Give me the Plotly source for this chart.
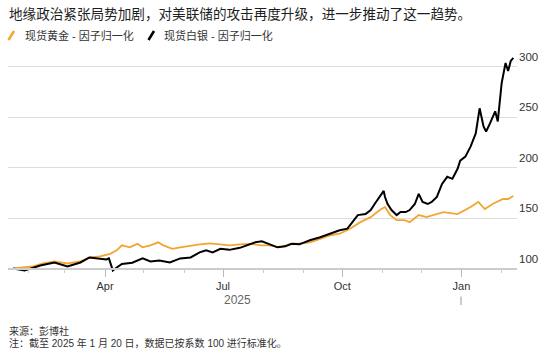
import plotly.graph_objects as go

title_text = "地缘政治紧张局势加剧，对美联储的攻击再度升级，进一步推动了这一趋势。"
gold_name = "现货黄金 - 因子归一化"
silver_name = "现货白银 - 因子归一化"
year_label = "2025"
source_text = "来源：彭博社"
note_text = "注：截至 2025 年 1 月 20 日，数据已按系数 100 进行标准化。"

gold_dates = [
    "2025-01-20", "2025-02-04", "2025-02-12", "2025-02-21", "2025-03-03", "2025-03-13",
    "2025-03-20", "2025-03-28", "2025-04-05", "2025-04-10", "2025-04-14", "2025-04-20",
    "2025-04-26", "2025-04-30", "2025-05-06", "2025-05-12", "2025-05-16", "2025-05-23",
    "2025-05-29", "2025-06-06", "2025-06-13", "2025-06-21", "2025-06-29", "2025-07-06",
    "2025-07-14", "2025-07-22", "2025-07-30", "2025-08-06", "2025-08-14", "2025-08-22",
    "2025-08-29", "2025-09-06", "2025-09-14", "2025-09-22", "2025-09-29", "2025-10-07",
    "2025-10-15", "2025-10-23", "2025-10-30", "2025-11-03", "2025-11-07", "2025-11-12",
    "2025-11-18", "2025-11-22", "2025-11-29", "2025-12-05", "2025-12-18", "2025-12-29",
    "2026-01-08", "2026-01-14", "2026-01-19", "2026-01-25", "2026-02-02", "2026-02-06",
    "2026-02-10"]
gold_values = [
    100, 102, 105, 107, 105, 107,
    111, 112, 114.5, 118, 123, 121,
    124.5, 121, 123, 126, 123, 119.5,
    121, 123, 124, 125, 124, 123,
    124, 124.5, 123, 123, 121, 124.5,
    125, 126, 129.5, 133, 134.5, 139.5,
    146, 151, 158, 161, 153, 148,
    148, 146, 153, 151, 156, 154,
    161, 166, 159, 164, 169, 169,
    172]

silver_dates = [
    "2025-01-20", "2025-01-29", "2025-02-10", "2025-02-21", "2025-03-03", "2025-03-13",
    "2025-03-20", "2025-03-26", "2025-04-02", "2025-04-04", "2025-04-07", "2025-04-10",
    "2025-04-14", "2025-04-22", "2025-04-30", "2025-05-06", "2025-05-13", "2025-05-21",
    "2025-05-29", "2025-06-06", "2025-06-13", "2025-06-18", "2025-06-23", "2025-06-29",
    "2025-07-06", "2025-07-14", "2025-07-22", "2025-07-26", "2025-07-31", "2025-08-06",
    "2025-08-12", "2025-08-18", "2025-08-23", "2025-08-29", "2025-09-06", "2025-09-14",
    "2025-09-22", "2025-09-29", "2025-10-05", "2025-10-09", "2025-10-13", "2025-10-19",
    "2025-10-23", "2025-10-26", "2025-10-30", "2025-11-02", "2025-11-03", "2025-11-05",
    "2025-11-08", "2025-11-12", "2025-11-15", "2025-11-19", "2025-11-22", "2025-11-26",
    "2025-11-29", "2025-12-02", "2025-12-06", "2025-12-09", "2025-12-13", "2025-12-17",
    "2025-12-21", "2025-12-25", "2025-12-29", "2025-12-31", "2026-01-04", "2026-01-08",
    "2026-01-12", "2026-01-15", "2026-01-18", "2026-01-20", "2026-01-23", "2026-01-27",
    "2026-01-29", "2026-02-01", "2026-02-04", "2026-02-06", "2026-02-08", "2026-02-10"]
silver_values = [
    100, 98, 103, 106, 102, 106,
    111, 110, 109, 110, 98, 101,
    104.5, 105.7, 110, 107, 108, 106,
    110, 111, 116, 118, 116, 119.5,
    118.5, 120.5, 124.5, 126, 127, 124,
    121, 122, 124.5, 124, 128, 131,
    134.5, 138, 139.5, 146, 153, 154,
    158, 164, 171, 177, 171, 164,
    158, 153, 156, 156, 158, 164,
    174, 166, 164, 166, 171, 184,
    191, 189, 199, 207, 211, 221,
    234, 259, 241, 236, 244, 256,
    246, 284, 304, 296, 306, 309]

assert len(gold_dates) == len(gold_values)
assert len(silver_dates) == len(silver_values)

y_tick_values = [100, 150, 200, 250, 300]
x_tick_dates = ["2025-04-01", "2025-07-01", "2025-10-01", "2026-01-01"]
x_tick_labels = ["Apr", "Jul", "Oct", "Jan"]

GOLD = "#F2A533"
SILVER = "#000000"
FONT = "Liberation Sans, Noto Sans CJK SC, sans-serif"

W, H = 553, 357
ML, MR, MT, MB = 8, 36, 55, 85
PW = W - ML - MR
PH = H - MT - MB
Y0, Y1 = 96.53, 311.9


def px(x):
    return (x - ML) / PW


def py(y):
    return (H - MB - y) / PH


fig = go.Figure()
fig.add_trace(go.Scatter(x=gold_dates, y=gold_values, mode="lines", name=gold_name,
                         line=dict(color=GOLD, width=1.8)))
fig.add_trace(go.Scatter(x=silver_dates, y=silver_values, mode="lines", name=silver_name,
                         line=dict(color=SILVER, width=2)))

annotations = [
    dict(text=title_text, x=px(7), y=py(14), font=dict(size=13.6, color="#1e1e1e")),
    dict(text=gold_name, x=px(23), y=py(35.5), font=dict(size=11, color="#333333")),
    dict(text=silver_name, x=px(162), y=py(35.5), font=dict(size=11, color="#333333")),
    dict(text=source_text, x=px(7), y=py(331), font=dict(size=10, color="#333333")),
    dict(text=note_text, x=px(7), y=py(342.5), font=dict(size=10, color="#333333")),
]
for a in annotations:
    a.update(xref="paper", yref="paper", xanchor="left", yanchor="middle", showarrow=False)
annotations.append(dict(text=year_label, x=px(237), y=py(300), xref="paper", yref="paper",
                        xanchor="center", yanchor="middle", showarrow=False,
                        font=dict(size=12, color="#666666")))

shapes = [
    dict(type="line", xref="paper", yref="paper", x0=px(8.5), y0=py(40), x1=px(14), y1=py(31),
         line=dict(color=GOLD, width=2.5)),
    dict(type="line", xref="paper", yref="paper", x0=px(148.5), y0=py(40), x1=px(154), y1=py(31),
         line=dict(color=SILVER, width=2.5)),
    dict(type="line", xref="paper", yref="paper", x0=px(461), y0=py(296.5), x1=px(461), y1=py(305),
         line=dict(color="#999999", width=1)),
]

fig.update_layout(
    width=W, height=H,
    margin=dict(l=ML, r=MR, t=MT, b=MB),
    paper_bgcolor="white", plot_bgcolor="white",
    font=dict(family=FONT, color="#333333"),
    showlegend=False,
    annotations=annotations,
    shapes=shapes,
    xaxis=dict(
        type="date",
        range=["2025-01-16 03:00", "2026-02-12 20:00"],
        tickvals=x_tick_dates, ticktext=x_tick_labels,
        ticks="outside", ticklen=8, tickcolor="#bbbbbb", tickwidth=1,
        tickfont=dict(size=11, color="#333333"),
        showgrid=False, zeroline=False,
        showline=True, linecolor="#cccccc", linewidth=1.5,
        anchor="free", position=(100 - Y0) / (Y1 - Y0),
        minor=dict(ticks="outside", ticklen=4, tickcolor="#cccccc", dtick="M1",
                   tick0="2025-01-01", showgrid=False),
    ),
    yaxis=dict(
        range=[Y0, Y1],
        tickvals=y_tick_values,
        side="right",
        showgrid=True, gridcolor="#dddddd", gridwidth=1,
        zeroline=False, showline=False, ticks="",
        tickfont=dict(size=11.5, color="#333333"),
        ticklabelshift=-10, ticklabelstandoff=1,
    ),
)

fig.write_html("out.html", config={"displayModeBar": False},
               post_script="document.body.style.margin='0';")
